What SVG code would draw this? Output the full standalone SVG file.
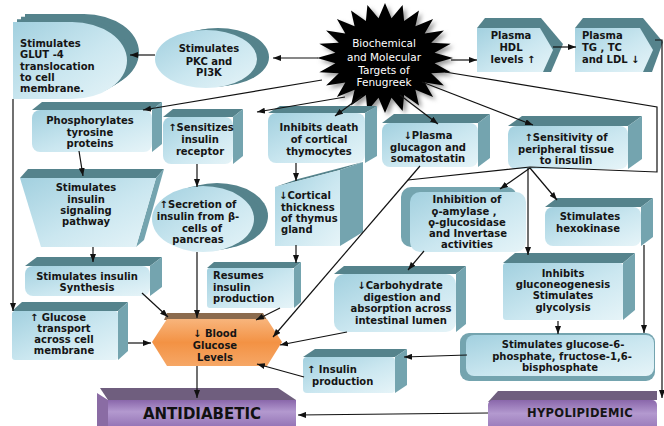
<svg xmlns="http://www.w3.org/2000/svg" width="664" height="426" viewBox="0 0 664 426">
<defs>
<linearGradient id="gFace" x1="0" y1="0" x2="1" y2="1"><stop offset="0" stop-color="#a2d0df"/><stop offset="0.55" stop-color="#cbe7f0"/><stop offset="1" stop-color="#e6f4f8"/></linearGradient>
<linearGradient id="gOr" x1="0" y1="0" x2="0" y2="1"><stop offset="0" stop-color="#f8b57c"/><stop offset="0.5" stop-color="#f39244"/><stop offset="1" stop-color="#f6a766"/></linearGradient>
<linearGradient id="gPur" x1="0" y1="0" x2="0" y2="1"><stop offset="0" stop-color="#8a67ab"/><stop offset="0.45" stop-color="#b399cf"/><stop offset="1" stop-color="#9676b7"/></linearGradient>
<filter id="blur" x="-10%" y="-10%" width="120%" height="120%"><feGaussianBlur stdDeviation="2"/></filter>
<marker id="ah" markerUnits="userSpaceOnUse" markerWidth="8" markerHeight="6" refX="8" refY="3" orient="auto"><path d="M0,0 L8,3 L0,6 z" fill="#111"/></marker>
<path id="dshape" d="M13,22 H72 A55,38.5 0 0 1 72,99 H13 Z"/>
<polygon id="star" points="453,58 434.6,63.2 450.7,72.2 431.2,73.3 443.9,85.5 424.7,82.4 433.1,96.9 415.4,89.7 419,105.6 404.1,95 402.6,111.1 391.5,97.7 385,113 378.5,97.7 367.4,111.1 365.9,95 351,105.6 354.6,89.7 336.9,96.9 345.3,82.4 326.1,85.5 338.8,73.3 319.3,72.2 335.4,63.2 317,58 335.4,52.8 319.3,43.8 338.8,42.7 326.1,30.5 345.3,33.6 336.9,19.1 354.6,26.3 351,10.4 365.9,21 367.4,4.9 378.5,18.3 385,3 391.5,18.3 402.6,4.9 404.1,21 419,10.4 415.4,26.3 433.1,19.1 424.7,33.6 443.9,30.5 431.2,42.7 450.7,43.8 434.6,52.8"/>
</defs>
<style>
.face{fill:url(#gFace)}
.top{fill:#55838c}
.side{fill:#74a4af}
.t{font-family:"DejaVu Sans",Verdana,sans-serif;font-weight:bold;font-size:10px;fill:#151515;text-anchor:middle}
.tl{text-anchor:start}
.w{fill:#ffffff;font-weight:normal;font-size:10.5px}
.big{font-size:15px;fill:#111}
.c{fill:none;stroke:#111;stroke-width:1.2}
.a{marker-end:url(#ah)}
</style>
<rect width="664" height="426" fill="#ffffff"/>

<g id="glut4">
<use href="#dshape" class="top" transform="translate(12,-8)"/>
<use href="#dshape" class="top" transform="translate(8,-5.3)"/>
<use href="#dshape" class="top" transform="translate(4,-2.7)"/>
<use href="#dshape" class="face"/>
<text class="t tl" x="20" y="47">Stimulates</text>
<text class="t tl" x="20" y="58">GLUT -4</text>
<text class="t tl" x="20" y="70">translocation</text>
<text class="t tl" x="20" y="81">to cell</text>
<text class="t tl" x="20" y="92">membrane.</text>
</g>

<g id="pkc">
<ellipse cx="218" cy="57" rx="51" ry="29" class="top"/>
<ellipse cx="212" cy="58" rx="51" ry="29" class="top"/>
<ellipse cx="206" cy="59" rx="51" ry="29" class="face"/>
<text class="t" x="209" y="52">Stimulates</text>
<text class="t" x="209" y="65">PKC and</text>
<text class="t" x="209" y="76">PI3K</text>
</g>

<g id="fenugreek">
<use href="#star" fill="#9a9a9a" transform="translate(3,3)" filter="url(#blur)"/>
<use href="#star" fill="#000000"/>
<text class="t w" x="384" y="47">Biochemical</text>
<text class="t w" x="384" y="61">and Molecular</text>
<text class="t w" x="384" y="74">Targets  of</text>
<text class="t w" x="384" y="86">Fenugreek</text>
</g>

<g id="hdl">
<polygon points="477,28 485,18 541,18 563,44 551,72 477,72" class="top"/>
<polygon points="477,28 540,28 553,50 543,72 477,72" class="face"/>
<text class="t" x="511" y="39">Plasma</text>
<text class="t" x="511" y="51">HDL</text>
<text class="t" x="513" y="63">levels ↑</text>
</g>

<g id="tg">
<polygon points="575,28 583,18 643,18 663,42 652,72 575,72" class="top"/>
<polygon points="575,28 640,28 653,50 643,72 575,72" class="face"/>
<text class="t tl" x="582" y="39">Plasma</text>
<text class="t tl" x="582" y="51">TG , TC</text>
<text class="t tl" x="582" y="63">and LDL ↓</text>
</g>

<g id="phospho">
<polygon points="32,110 42,102 162,102 152,110" class="top"/>
<polygon points="152,110 162,102 162,144 152,152" class="side"/>
<rect x="32" y="110" width="120" height="42" rx="8" class="face"/>
<text class="t" x="90" y="124">Phosphorylates</text>
<text class="t" x="90" y="136">tyrosine</text>
<text class="t" x="90" y="147">proteins</text>
</g>

<g id="sensitizes">
<polygon points="163,117 173,109 243,109 233,117" class="top"/>
<polygon points="233,117 243,109 243,156 233,164" class="side"/>
<rect x="163" y="117" width="70" height="47" rx="8" class="face"/>
<text class="t" x="201" y="131">↑Sensitizes</text>
<text class="t" x="200" y="143">insulin</text>
<text class="t" x="200" y="155">receptor</text>
</g>

<g id="thymocytes">
<polygon points="268,113 280,106 377,106 365,113" class="top"/>
<polygon points="365,113 377,106 377,156 365,163" class="side"/>
<rect x="268" y="113" width="97" height="50" rx="8" class="face"/>
<text class="t" x="319" y="131">Inhibits death</text>
<text class="t" x="319" y="143">of cortical</text>
<text class="t" x="319" y="155">thymocytes</text>
</g>

<g id="glucagon">
<polygon points="382,123 394,114 490,114 478,123" class="top"/>
<polygon points="478,123 490,114 490,158 478,167" class="side"/>
<rect x="382" y="123" width="96" height="44" rx="8" class="face"/>
<text class="t" x="428" y="139">↓Plasma</text>
<text class="t" x="428" y="151">glucagon  and</text>
<text class="t" x="428" y="162">somatostatin</text>
</g>

<g id="peripheral">
<polygon points="508,126 522,116 642,116 628,126" class="top"/>
<polygon points="628,126 642,116 642,159 628,169" class="side"/>
<rect x="508" y="126" width="120" height="43" rx="8" class="face"/>
<text class="t" x="566" y="141">↑Sensitivity of</text>
<text class="t" x="566" y="153">peripheral tissue</text>
<text class="t" x="566" y="164">to insulin</text>
</g>

<g id="signaling">
<polygon points="20,178 28,169 164,169 156,178" class="top"/>
<polygon points="156,178 164,169 144,240 136,247" class="side"/>
<polygon points="20,178 156,178 136,247 41,247" class="face"/>
<text class="t" x="86" y="191">Stimulates</text>
<text class="t" x="86" y="203">insulin</text>
<text class="t" x="86" y="214">signaling</text>
<text class="t" x="86" y="225">pathway</text>
</g>

<g id="secretion">
<ellipse cx="217" cy="216" rx="51" ry="33" class="top"/>
<ellipse cx="210" cy="217.5" rx="51" ry="33" class="top"/>
<ellipse cx="203" cy="219" rx="51" ry="33" class="face"/>
<text class="t" x="198" y="208">↑Secretion of</text>
<text class="t" x="198" y="220">insulin from β-</text>
<text class="t" x="202" y="232">cells of</text>
<text class="t" x="198" y="243">pancreas</text>
</g>

<g id="cortical">
<polygon points="275,187 298,179 363,162 340,170" class="top"/>
<polygon points="340,170 363,162 363,232 340,246" class="side"/>
<polygon points="275,187 340,170 340,246 275,246" class="face"/>
<text class="t tl" x="279" y="199">↓Cortical</text>
<text class="t tl" x="281" y="211">thickness</text>
<text class="t tl" x="281" y="222">of thymus</text>
<text class="t tl" x="281" y="233">gland</text>
</g>

<g id="inhibition">
<rect x="401" y="187" width="116" height="60" rx="10" class="side"/>
<rect x="410" y="192" width="116" height="60" rx="10" class="face"/>
<text class="t" x="467" y="203">Inhibition of</text>
<text class="t" x="464" y="215">ϙ-amylase ,</text>
<text class="t" x="467" y="226">ϙ-glucosidase</text>
<text class="t" x="468" y="237">and Invertase</text>
<text class="t" x="467" y="248">activities</text>
</g>

<g id="hexokinase">
<polygon points="545,207 557,198 653,198 641,207" class="top"/>
<polygon points="641,207 653,198 653,237 641,246" class="side"/>
<rect x="545" y="207" width="96" height="39" rx="8" class="face"/>
<text class="t" x="590" y="220">Stimulates</text>
<text class="t" x="588" y="232">hexokinase</text>
</g>

<g id="synthesis">
<polygon points="25,266 37,257 162,257 150,266" class="top"/>
<polygon points="150,266 162,257 162,287 150,296" class="side"/>
<rect x="25" y="266" width="125" height="30" rx="8" class="face"/>
<text class="t" x="87" y="280">Stimulates insulin</text>
<text class="t" x="87" y="291">Synthesis</text>
</g>

<g id="transport">
<polygon points="12,311 22,302 128,302 118,311" class="top"/>
<polygon points="118,311 128,302 128,351 118,360" class="side"/>
<rect x="12" y="311" width="106" height="49" rx="3" class="face"/>
<text class="t" x="58" y="321">↑ Glucose</text>
<text class="t" x="64" y="332">transport</text>
<text class="t" x="64" y="343">across cell</text>
<text class="t" x="64" y="354">membrane</text>
</g>

<g id="resumes">
<polygon points="207,268 214,262 301,262 294,268" class="top"/>
<polygon points="294,268 301,262 301,302 294,308" class="side"/>
<rect x="207" y="268" width="87" height="40" rx="3" class="face"/>
<text class="t tl" x="213" y="279">Resumes</text>
<text class="t tl" x="213" y="291">insulin</text>
<text class="t tl" x="213" y="302">production</text>
</g>

<g id="carbohydrate">
<polygon points="334,274 344,266 466,266 456,274" class="top"/>
<polygon points="456,274 466,266 466,324 456,332" class="side"/>
<rect x="334" y="274" width="122" height="58" rx="10" class="face"/>
<text class="t" x="400" y="289">↓Carbohydrate</text>
<text class="t" x="402" y="301">digestion and</text>
<text class="t" x="401" y="312">absorption  across</text>
<text class="t" x="401" y="324">intestinal lumen</text>
</g>

<g id="gluconeogenesis">
<polygon points="503,263 515,253 635,253 623,263" class="top"/>
<polygon points="623,263 635,253 635,310 623,320" class="side"/>
<rect x="503" y="263" width="120" height="57" rx="3" class="face"/>
<text class="t" x="563" y="277">Inhibits</text>
<text class="t" x="563" y="288">gluconeogenesis</text>
<text class="t" x="563" y="299">Stimulates</text>
<text class="t" x="563" y="311">glycolysis</text>
</g>

<g id="glucose6p">
<rect x="460" y="333" width="195" height="48" rx="9" class="side"/>
<rect x="466" y="335" width="188" height="41" rx="8" class="face"/>
<text class="t" x="563" y="348">Stimulates glucose-6-</text>
<text class="t" x="562" y="360">phosphate,  fructose-1,6-</text>
<text class="t" x="560" y="371">bisphosphate</text>
</g>

<g id="insulinprod">
<polygon points="303,357 315,349 407,349 395,357" class="top"/>
<polygon points="395,357 407,349 407,385 395,393" class="side"/>
<rect x="303" y="357" width="92" height="36" rx="4" class="face"/>
<text class="t tl" x="307" y="373">↑ Insulin</text>
<text class="t tl" x="312" y="385">production</text>
</g>

<g id="bloodglucose">
<polygon points="167,313 263,313 267,320 164,320" fill="#8b6b4e"/>
<polygon points="152,342 167,319 267,319 282,342 267,366 167,366" fill="url(#gOr)"/>
<text class="t" x="215" y="337">↓ Blood</text>
<text class="t" x="215" y="349">Glucose</text>
<text class="t" x="215" y="361">Levels</text>
</g>

<g id="antidiabetic">
<polygon points="100,388 278,388 296,400 108,400" fill="#6f5e7e"/>
<polygon points="97,393 108,400 108,426 97,426" fill="#8a6ca4"/>
<rect x="108" y="400" width="188" height="26" fill="url(#gPur)"/>
<text class="t big" x="202" y="419">ANTIDIABETIC</text>
</g>

<g id="hypolipidemic">
<polygon points="498,391 657,391 657,400 488,402" fill="#6f5e7e"/>
<rect x="488" y="400" width="169" height="30" rx="5" fill="url(#gPur)"/>
<text class="t" x="580" y="417" style="font-size:11.5px;letter-spacing:0.3px">HYPOLIPIDEMIC</text>
</g>

<g id="connectors">
<line class="c a" x1="318" y1="58" x2="273" y2="58"/>
<line class="c a" x1="155" y1="55" x2="130" y2="55"/>
<line class="c a" x1="451" y1="60" x2="477" y2="60"/>
<line class="c a" x1="553" y1="47" x2="576" y2="47"/>
<line class="c a" x1="322" y1="80" x2="143" y2="110"/>
<line class="c a" x1="345" y1="97" x2="257" y2="112"/>
<line class="c a" x1="362" y1="96" x2="335" y2="116"/>
<line class="c a" x1="400" y1="95" x2="438" y2="124"/>
<line class="c a" x1="422" y1="82" x2="533" y2="125"/>
<polyline class="c" points="445,72 657,107 657,172 530,167 408,180"/>
<line class="c a" x1="420" y1="166" x2="273" y2="337"/>
<line class="c a" x1="530" y1="168" x2="500" y2="189"/>
<line class="c a" x1="530" y1="168" x2="557" y2="200"/>
<line class="c a" x1="528" y1="168" x2="528" y2="255"/>
<line class="c a" x1="644" y1="245" x2="644" y2="333"/>
<line class="c a" x1="558" y1="321" x2="558" y2="334"/>
<line class="c a" x1="467" y1="355" x2="404" y2="357"/>
<line class="c a" x1="304" y1="377" x2="257" y2="364"/>
<line class="c a" x1="424" y1="251" x2="408" y2="270"/>
<line class="c a" x1="347" y1="332" x2="280" y2="345"/>
<line class="c a" x1="280" y1="308" x2="256" y2="320"/>
<line class="c a" x1="296" y1="245" x2="296" y2="263"/>
<line class="c a" x1="296" y1="163" x2="296" y2="181"/>
<line class="c a" x1="197" y1="164" x2="197" y2="187"/>
<line class="c a" x1="197" y1="252" x2="197" y2="318"/>
<line class="c a" x1="79" y1="151" x2="83" y2="176"/>
<line class="c a" x1="93" y1="247" x2="93" y2="262"/>
<line class="c a" x1="142" y1="293" x2="168" y2="317"/>
<line class="c a" x1="128" y1="343" x2="151" y2="343"/>
<line class="c a" x1="13" y1="99" x2="13" y2="311"/>
<line class="c a" x1="197" y1="366" x2="197" y2="398"/>
<line class="c a" x1="488" y1="413" x2="298" y2="415"/>
<polyline class="c a" points="655,40 662,40 662,398"/>
</g>
</svg>
